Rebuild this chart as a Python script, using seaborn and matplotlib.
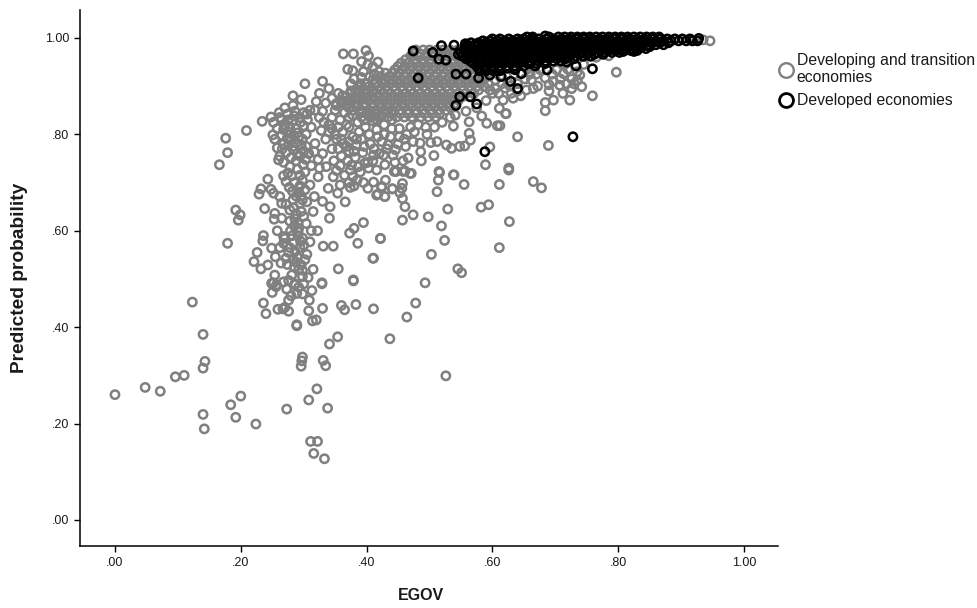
import matplotlib
matplotlib.use("Agg")
import matplotlib.pyplot as plt
import seaborn as sns
import pandas as pd
from matplotlib.lines import Line2D

LEGEND_LABELS = ["Developing and transition\neconomies", "Developed economies"]
X_TICKS = [0, .2, .4, .6, .8, 1.0]
Y_TICKS = [0, .2, .4, .6, .8, 1.0]
TICK_LABELS = [".00", ".20", ".40", ".60", ".80", "1.00"]

gray_sparse = [(.123,.452),(.140,.385),(.143,.329),(.140,.315),(.110,.300),(.096,.297),(.048,.275),(.072,.267),(.000,.260),
(.200,.257),(.184,.239),(.192,.213),(.224,.199),(.140,.219),(.142,.189),(.273,.230),(.308,.249),(.321,.272),(.338,.232),
(.311,.163),(.322,.163),(.316,.138),(.333,.127),(.298,.338),(.297,.330),(.296,.319),(.331,.331),(.335,.320),(.341,.365),
(.354,.380),(.437,.376),(.289,.403),(.289,.405),(.240,.428),(.236,.450),(.250,.472),(.259,.437),(.267,.438),(.270,.441),
(.276,.433),(.276,.456),(.280,.465),(.289,.470),(.298,.469),(.309,.456),(.308,.434),(.314,.413),(.320,.415),(.330,.439),
(.360,.445),(.365,.436),(.383,.447),(.411,.438),(.313,.476),(.329,.490),(.379,.496),(.286,.488),(.273,.479),(.257,.488),(.249,.491),
(.526,.299),(.464,.421),(.478,.450),(.493,.492),(.545,.521),(.551,.513),(.503,.551),(.524,.580),(.611,.565),(.519,.610),
(.498,.629),(.474,.633),(.457,.622),(.529,.645),(.582,.649),(.594,.654),(.627,.619),(.411,.543),(.422,.584),(.461,.650),
(.457,.667),(.453,.679),(.456,.688),(.457,.698),(.441,.687),(.429,.671),(.418,.676),(.424,.692),(.411,.701),(.512,.681),
(.514,.705),(.516,.721),(.539,.716),(.555,.696),(.611,.696),(.665,.702),(.678,.689),(.626,.726),(.469,.719),(.447,.723),(.461,.724)]

gray_left = [(.166,.737),(.179,.762),(.176,.792),(.209,.808),(.234,.827),(.248,.836),(.261,.845),(.265,.831),(.251,.799),
(.179,.574),(.192,.643),(.199,.633),(.196,.622),(.243,.707),(.232,.687),(.229,.676),(.248,.686),(.252,.678),(.238,.646),
(.262,.671),(.265,.657),(.254,.636),(.253,.624),(.236,.590),(.235,.579),(.226,.555),(.221,.536),(.232,.521),(.243,.529),
(.249,.564),(.255,.546),(.268,.588),(.268,.574),(.254,.508),(.252,.492),(.256,.484),(.268,.714),(.281,.714),(.294,.715),
(.277,.690),(.294,.693),(.302,.685),(.317,.671),(.330,.661),(.342,.650),(.341,.626),(.315,.640),(.312,.600),(.331,.568),
(.347,.568),(.355,.521),(.379,.498),(.329,.492),(.307,.503),(.296,.529),(.305,.551),(.310,.577),(.291,.615),(.291,.598),
(.291,.590),(.278,.643),(.283,.664),(.294,.657),(.305,.660),(.278,.620),(.265,.626),(.270,.584),(.286,.557),(.272,.543),
(.283,.540),(.264,.533),(.281,.508),(.286,.490),(.268,.494),(.366,.660),(.354,.678),(.339,.688),(.323,.712),(.347,.712),
(.336,.733),(.323,.748),(.317,.764),(.318,.781),(.304,.775),(.283,.775),(.260,.747),(.299,.737),(.294,.755),(.374,.690),
(.380,.693),(.402,.688),(.416,.674),(.429,.671),(.424,.690),(.441,.687),(.446,.724),(.395,.617),(.380,.605),(.373,.595),
(.386,.574),(.422,.584),(.410,.543),(.279,.600),(.285,.610),(.300,.630),(.288,.635),(.272,.655),(.284,.648),(.296,.672),
(.274,.530),(.292,.520),(.298,.505),(.285,.525),(.300,.570),(.295,.578),(.278,.565),(.290,.545),(.302,.540),(.276,.497),
(.292,.483),(.300,.490),(.315,.520),(.322,.600),(.262,.565),(.258,.600)]

gray_right = [(.946,.994),(.935,.996),(.797,.929),(.785,.963),(.765,.960),(.759,.880),(.723,.871),(.742,.899),(.697,.871),
(.684,.866),(.684,.849),(.689,.777),(.640,.795),(.621,.843),(.612,.818),(.726,.895),(.707,.902),(.697,.910),(.684,.917),
(.726,.915),(.739,.923),(.713,.926),(.702,.934),(.676,.934),(.665,.895),(.654,.892),(.662,.913),(.633,.875),(.617,.871),
(.620,.896),(.626,.730),(.589,.737),(.596,.774),(.608,.818),(.591,.823),(.583,.838),(.622,.843),(.611,.854),(.563,.826),
(.538,.817),(.533,.835),(.541,.840),(.558,.848),(.563,.802),(.565,.788),(.556,.776),(.548,.775),(.535,.771),(.527,.778),
(.512,.785),(.502,.783),(.507,.756),(.487,.745),(.486,.764),(.485,.782),(.515,.723),(.538,.716),(.471,.719),(.458,.723),
(.444,.723),(.429,.737),(.466,.751),(.458,.745),(.442,.757),(.427,.757),(.411,.757),(.397,.740),(.387,.733),(.374,.726),
(.376,.736),(.403,.730),(.416,.726),(.363,.781),(.363,.967),(.379,.967),(.399,.974),(.403,.963),(.392,.951),(.378,.932),
(.640,.905),(.652,.915),(.672,.900),(.690,.890),(.712,.885),(.730,.905),(.715,.945),(.745,.945),(.655,.935),(.635,.925),
(.615,.905),(.600,.885),(.590,.870),(.575,.855),(.570,.885),(.610,.885),(.630,.885),(.645,.880),(.660,.925),(.695,.925),
(.720,.935),(.735,.930),(.708,.915),(.718,.905),(.735,.912),(.690,.903),(.670,.925),(.628,.900),(.640,.890),(.605,.895)]

gray_mid = [(.270,.855),(.283,.860),(.296,.872),(.283,.880),(.302,.905),(.325,.885),(.330,.910),(.340,.895),(.345,.875),
(.335,.865),(.320,.868),(.310,.850),(.300,.845),(.355,.885),(.360,.865),(.350,.850),(.370,.870),(.375,.890),(.385,.875),
(.390,.905),(.380,.915),(.370,.935),(.395,.930),(.410,.940),(.405,.920),(.420,.930),(.415,.905),(.400,.890),(.395,.860),
(.410,.875),(.425,.910),(.380,.850),(.365,.845),
(.252,.825),(.262,.835),(.274,.842),(.286,.848),(.258,.812),(.270,.820),(.282,.828),(.294,.835),(.306,.830),(.254,.790),
(.265,.798),(.276,.805),(.288,.812),(.300,.818),(.312,.815),(.258,.772),(.268,.780),(.280,.788),(.292,.795),(.304,.800),
(.262,.755),(.272,.762),(.284,.768),(.296,.778),(.308,.760),(.268,.742),(.278,.733),(.290,.728),(.302,.722),(.312,.735),
(.285,.700),(.272,.702),(.298,.705),(.310,.695),(.325,.730),(.330,.760),(.335,.790),(.328,.808),(.340,.820),(.325,.835),
(.345,.770),(.352,.790),(.362,.805),(.372,.815),(.348,.745),(.360,.755),(.372,.765),(.384,.778),(.358,.735),(.370,.745),
(.382,.752),(.394,.762),(.352,.725),(.365,.715),(.378,.712),(.390,.722),(.402,.742),(.412,.770),(.424,.785),(.438,.795),
(.392,.790),(.404,.800),(.416,.810),(.428,.820),(.440,.830),(.452,.812),(.464,.800),(.476,.805),(.450,.780),(.462,.775),
(.474,.785),(.496,.800),(.508,.815),(.520,.825),(.345,.835),(.358,.830),(.372,.835),(.386,.825),(.398,.815),(.410,.828),
(.422,.840),(.434,.848),(.318,.850),(.330,.848),(.345,.812),(.355,.770),(.378,.795),(.388,.805),(.432,.770),(.445,.742),
(.430,.705),(.395,.700),(.385,.705),(.372,.700),(.358,.695),
(.275,.830),(.285,.838),(.295,.825),(.305,.842),(.268,.810),(.278,.816),(.290,.803),(.298,.790),(.274,.792),(.284,.798),
(.266,.770),(.276,.778),(.288,.782),(.280,.752),(.290,.760),(.300,.765),(.275,.720),(.288,.745),(.303,.748),
(.282,.682),(.292,.680),(.288,.672),(.298,.664),(.286,.625),(.296,.640),(.304,.615),(.282,.590),(.292,.605),(.298,.585),
(.284,.575),(.294,.565),(.276,.555),(.288,.535),(.298,.518),
(.392,.845),(.404,.838),(.416,.830),(.428,.800),(.440,.812),(.452,.795),(.406,.780),(.418,.795),(.396,.775),(.384,.790),
(.372,.785),(.360,.790),(.368,.775),(.380,.765),(.410,.745),(.420,.760),(.434,.778),(.446,.768),(.460,.790),(.470,.815),
(.482,.820),(.494,.815),(.350,.800),(.340,.805),(.332,.825),(.355,.815),(.368,.820),(.378,.840),(.396,.830),(.352,.860),
(.372,.855),(.385,.862),(.362,.880),(.388,.892),(.400,.905),(.375,.905),(.392,.918),(.412,.925),(.402,.945),(.418,.950)]

# solid part of the cloud: one list of EGOV readings per probability level
dense_gray_levels = [.975,.962,.948,.934,.920,.906,.892,.878,.864,.850,.836,
                     .968,.955,.941,.927,.913,.899,.885,.871,.857,.843]
dense_gray_x = [
 [.478,.490,.500,.512,.522,.533,.545,.556],
 [.470,.482,.494,.506,.518,.530,.542,.554,.566],
 [.455,.467,.479,.491,.503,.515,.527,.539,.551,.563,.575,.590],
 [.445,.457,.469,.481,.493,.505,.517,.529,.541,.553,.565,.577,.589,.603],
 [.422,.436,.448,.460,.472,.484,.496,.508,.520,.532,.544,.556,.568,.580,.592,.612],
 [.398,.412,.425,.437,.449,.461,.473,.485,.497,.509,.521,.533,.545,.557,.569,.581,.593,.625],
 [.382,.396,.410,.422,.434,.446,.458,.470,.482,.494,.506,.518,.530,.542,.554,.566,.578,.596],
 [.368,.382,.395,.408,.420,.432,.444,.456,.468,.480,.492,.504,.516,.528,.540,.552,.564],
 [.352,.368,.382,.396,.408,.420,.432,.444,.456,.468,.480,.492,.504,.516,.528,.540],
 [.378,.392,.405,.418,.430,.442,.454,.466,.478,.490,.502,.514,.526],
 [.392,.408,.420,.434,.448,.460,.472,.486,.498,.510],
 [.474,.484,.496,.506,.517,.528,.539,.550,.561],
 [.462,.476,.488,.500,.512,.524,.536,.548,.560,.572,.582],
 [.450,.461,.473,.485,.497,.509,.521,.533,.545,.557,.569,.583,.596],
 [.430,.441,.451,.463,.475,.487,.499,.511,.523,.535,.547,.559,.571,.583,.598],
 [.410,.424,.430,.442,.454,.466,.478,.490,.502,.514,.526,.538,.550,.562,.574,.586,.605],
 [.390,.404,.418,.431,.443,.455,.467,.479,.491,.503,.515,.527,.539,.551,.563,.575,.587],
 [.375,.389,.402,.416,.428,.438,.450,.462,.474,.486,.498,.510,.522,.534,.546,.558,.570],
 [.360,.375,.388,.402,.414,.426,.438,.450,.462,.474,.486,.498,.510,.522,.534,.546],
 [.385,.398,.411,.424,.436,.448,.460,.472,.484,.496,.508,.520,.532],
 [.400,.414,.427,.440,.454,.466,.479,.492,.504,.516],
]

black_sparse = [(.474,.973),(.482,.917),(.505,.970),(.519,.984),(.539,.985),(.557,.988),(.515,.956),(.526,.954),(.542,.925),
(.558,.925),(.578,.917),(.596,.923),(.614,.920),(.629,.910),(.640,.895),(.646,.926),(.636,.934),(.660,.947),(.548,.878),
(.565,.878),(.575,.863),(.542,.860),(.588,.764),(.759,.936),(.728,.795),(.733,.942),(.687,.934),(.718,.950),(.750,.968),
(.808,.972),(.825,.972),(.928,.999),(.684,1.004)]

black_levels = [1.002,.994,.986,.978,.970,.962,.952,.942,.932,.998,.990,.982,.974,.966,.957,.947,.937]
black_x = [
 [.655,.664,.690,.705,.715,.725,.735,.745,.755,.765,.775,.785,.795,.805,.815,.825,.835,.845,.855,.865],
 [.585,.596,.608,.620,.632,.644,.656,.668,.680,.692,.704,.716,.728,.740,.752,.764,.776,.788,.800,.812,.824,.836,.848,.860,.872,.884,.896,.908,.918,.926],
 [.560,.572,.584,.596,.608,.620,.632,.644,.656,.668,.680,.692,.704,.716,.728,.740,.752,.764,.776,.788,.800,.812,.824,.836,.848,.860,.872],
 [.556,.568,.580,.592,.604,.616,.628,.640,.652,.664,.676,.688,.700,.712,.724,.736,.748,.760,.772,.784,.796,.808,.820,.832,.844],
 [.550,.562,.574,.586,.598,.610,.622,.634,.646,.658,.670,.682,.694,.706,.718,.730,.742,.754,.766,.778,.790,.802],
 [.552,.564,.576,.588,.600,.612,.624,.636,.648,.660,.672,.684,.696,.708,.720,.732,.744,.756],
 [.565,.577,.589,.601,.613,.625,.637,.649,.661,.673,.685,.697,.709],
 [.575,.587,.599,.611,.623,.635,.650,.668],
 [.580,.590,.602,.612],
 [.600,.612,.626,.640,.650,.662,.674,.686,.698,.710,.722,.734,.746,.758,.770,.782,.794,.806,.818,.830,.842,.854,.866,.878,.890,.902,.914],
 [.566,.578,.590,.602,.614,.626,.638,.650,.662,.674,.686,.698,.710,.722,.734,.746,.758,.770,.782,.794,.806,.818,.830,.842,.854,.866,.880],
 [.562,.574,.586,.598,.610,.622,.634,.646,.658,.670,.682,.694,.706,.718,.730,.742,.754,.766,.778,.790,.802,.814,.826,.838,.850],
 [.556,.568,.580,.592,.604,.616,.628,.640,.652,.664,.676,.688,.700,.712,.724,.736,.748,.760,.772,.784,.796,.808,.820,.830],
 [.546,.558,.570,.582,.594,.606,.618,.630,.642,.654,.666,.678,.690,.702,.714,.726,.738,.750,.762,.776],
 [.558,.570,.582,.594,.606,.618,.630,.642,.654,.666,.678,.690,.702,.716,.730],
 [.570,.582,.594,.606,.618,.630,.642,.656,.670,.684],
 [.578,.588,.600,.612,.624,.636],
]

GRAY = "#808080"
BLACK = "#000000"

gray_pts = gray_sparse + gray_left + gray_right + gray_mid
gray_pts = gray_pts + [(x, y) for y, xs in zip(dense_gray_levels, dense_gray_x) for x in xs]
black_pts = black_sparse + [(x, y) for y, xs in zip(black_levels, black_x) for x in xs]
df_gray = pd.DataFrame(gray_pts, columns=["EGOV", "Predicted probability"])
df_black = pd.DataFrame(black_pts, columns=["EGOV", "Predicted probability"])

sns.set_theme(style="ticks")
plt.rcParams["font.family"] = ["Liberation Sans", "DejaVu Sans"]

fig = plt.figure(figsize=(9.78, 6.08), dpi=100, facecolor="white")
ax = fig.add_axes([80/978, 1-546/608, (778-80)/978, (546-10)/608])

for frame, col in ((df_gray, GRAY), (df_black, BLACK)):
    sns.scatterplot(data=frame, x="EGOV", y="Predicted probability", ax=ax, s=36,
                    facecolors="none", edgecolor=col, linewidth=1.8, legend=False)

ax.set_xlim(-.0556, 1.054)
ax.set_ylim(-.054, 1.058)
ax.set_xticks(X_TICKS, TICK_LABELS)
ax.set_yticks(Y_TICKS, TICK_LABELS)
ax.tick_params(axis="both", length=4, width=1, color="black", labelsize=9, labelcolor="#1a1a1a")
ax.tick_params(axis="y", pad=3.5)
ax.tick_params(axis="x", pad=4)
for s in ("top", "right"):
    ax.spines[s].set_visible(False)
for s in ("left", "bottom"):
    ax.spines[s].set_linewidth(1.1)
    ax.spines[s].set_color("black")
ax.set_xlabel("")
ax.set_ylabel("")
fig.text(421/978, 1-596/608, "EGOV", ha="center", va="center", fontsize=11.5, fontweight="bold", color="#1a1a1a")
fig.text(20/978, 1-278/608, "Predicted probability", ha="center", va="center", rotation=90,
         fontsize=13.8, fontweight="bold", color="#1a1a1a")

handles = [Line2D([], [], linestyle="none", marker="o", markersize=10.5, markerfacecolor="none", markeredgecolor=GRAY, markeredgewidth=1.7),
           Line2D([], [], linestyle="none", marker="o", markersize=10, markerfacecolor="none", markeredgecolor=BLACK, markeredgewidth=2)]
fig.legend(handles, LEGEND_LABELS, loc="upper left", bbox_to_anchor=(773/978, 1-53/608), frameon=False,
           fontsize=11.3, handletextpad=-0.1, labelspacing=0.5, borderpad=0, borderaxespad=0, handlelength=1.6,
           labelcolor="#1a1a1a")

fig.savefig("out.png", dpi=100)
